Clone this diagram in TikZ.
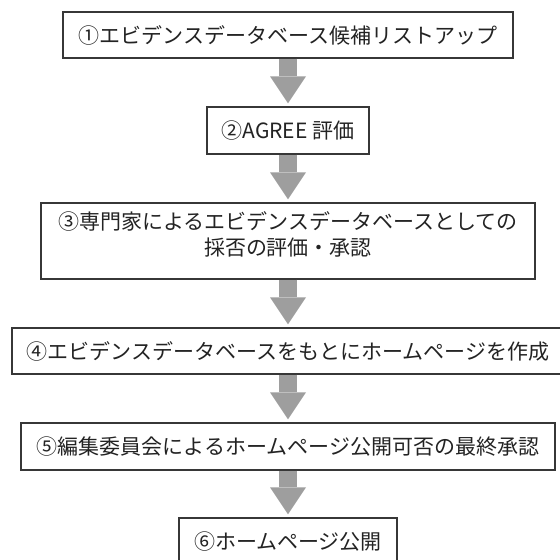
\documentclass[tikz,border=0pt]{standalone}
\usepackage{fontspec}
\newfontfamily\jp{Noto Sans CJK JP}
\usetikzlibrary{arrows.meta}
\definecolor{boxline}{RGB}{55,55,55}
\definecolor{arrgray}{RGB}{158,158,158}
\definecolor{txt}{RGB}{35,35,35}
\begin{document}
\begin{tikzpicture}[x=1pt,y=-1pt,
  stepbox/.style={draw=boxline, line width=1.3pt, fill=white, inner sep=0pt,
    align=center, font=\jp\fontsize{21}{26}\selectfont, text=txt, minimum height=47pt},
  flow/.style={draw=arrgray, line width=18pt,
    -{Triangle[width=36pt,length=27pt,line width=0pt]}, shorten >=3pt}]
\useasboundingbox (0,0) rectangle (560,560);
\clip (0,0) rectangle (560,560);
\fill[white] (0,0) rectangle (560,560);
\node[stepbox, minimum width=450pt, minimum height=46pt] (b1) at (288,35) {①エビデンスデータベース候補リストアップ};
\node[stepbox, minimum width=162pt] (b2) at (288,130.5) {②AGREE 評価};
\node[stepbox, minimum width=494pt, minimum height=76pt] (b3) at (288,241) {③専門家によるエビデンスデータベースとしての\\採否の評価・承認\\[-11pt]\mbox{}};
\node[stepbox, minimum width=552pt, minimum height=46pt] (b4) at (288,351) {④エビデンスデータベースをもとにホームページを作成};
\node[stepbox, minimum width=534pt] (b5) at (288,446.5) {⑤編集委員会によるホームページ公開可否の最終承認};
\node[stepbox, minimum width=218pt] (b6) at (288,541.5) {⑥ホームページ公開};
\draw[flow] (b1.south) -- (b2.north);
\draw[flow] (b2.south) -- (b3.north);
\draw[flow] (b3.south) -- (b4.north);
\draw[flow] (b4.south) -- (b5.north);
\draw[flow] (b5.south) -- (b6.north);
\end{tikzpicture}
\end{document}
